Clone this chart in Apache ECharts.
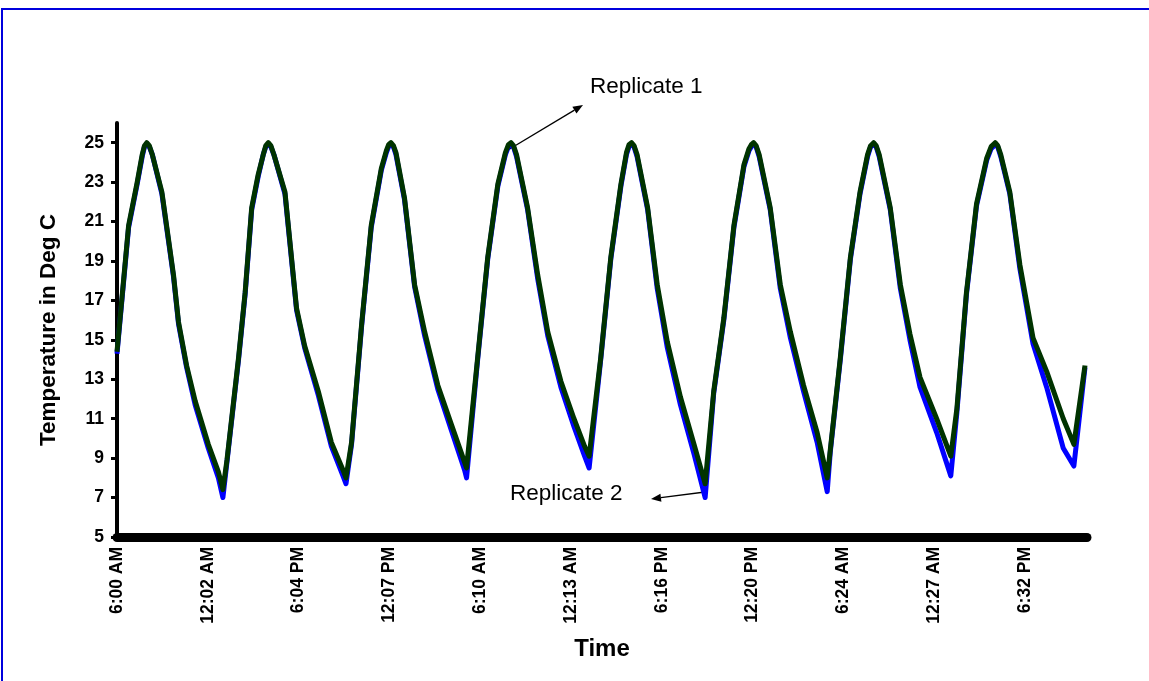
<!DOCTYPE html>
<html><head><meta charset="utf-8">
<script src="https://cdn.jsdelivr.net/npm/echarts@6/dist/echarts.min.js"></script>
<style>html,body{margin:0;padding:0;background:#fff}#c{width:1149px;height:681px}</style>
</head><body><div id="c"></div>
<script>
// elapsed hours from the 6:00 AM start
const hours = [0,2.3,4.0,5.0,5.45,5.9,6.4,7.0,8.9,11.2,12.2,13.8,15.5,18.1,20.1,21.0,
  21.8,24.1,25.4,26.7,28.0,29.0,29.5,30.0,30.5,31.1,33.3,35.6,37.2,39.9,42.5,44.8,45.4,
  46.5,48.5,50.4,52.4,53.4,53.85,54.3,54.8,55.3,57.0,59.0,61.0,63.6,66.3,68.9,69.3,
  71.5,73.5,75.5,77.0,77.6,78.1,78.6,79.2,81.4,83.4,85.4,88.0,90.6,92.7,93.6,
  95.9,97.9,99.9,101.0,101.5,102.0,102.5,103.1,105.2,107.1,109.1,111.7,114.4,116.6,
  118.3,120.3,122.3,124.3,125.3,125.75,126.2,126.7,127.3,129.5,131.5,133.5,136.1,138.8,140.8,
  141.4,143.4,145.4,147.3,148.8,149.4,150.0,150.5,151.1,153.3,155.3,157.2,159.2,162.5,165.3,
  166.5,168.4,170.4,172.4,173.3,174.1,174.6,175.2,177.0,179.0,181.6,184.3,187.6,189.7,191.9];
const replicate1 = [14.4,20.8,23.0,24.4,24.85,25.0,24.85,24.4,22.5,18.3,15.9,13.7,11.9,9.7,8.3,7.4,
  8.9,14.1,17.4,21.7,23.4,24.4,24.85,25.0,24.85,24.4,22.5,16.6,14.7,12.4,9.8,8.4,8.0,
  9.8,15.8,20.8,23.7,24.6,24.9,25.0,24.85,24.5,22.2,17.8,15.4,12.7,10.7,8.8,8.5,
  14.1,19.2,22.9,24.5,24.9,25.0,24.85,24.4,21.7,18.3,15.4,12.9,11.0,9.6,9.1,
  14.1,19.2,22.9,24.5,24.9,25.0,24.85,24.4,21.7,17.8,14.9,12.1,9.7,7.7,
  12.4,16.1,20.8,23.9,24.7,24.9,25.0,24.85,24.4,21.7,17.8,15.4,12.7,10.3,8.0,
  9.4,14.1,19.2,22.5,24.4,24.85,25.0,24.85,24.4,21.7,17.8,15.3,13.1,11.0,9.1,
  11.5,17.4,21.9,24.2,24.8,25.0,24.85,24.4,22.5,18.8,15.1,13.4,11.0,9.7,13.7];
const replicate2 = [14.3,20.7,22.9,24.3,24.8,24.9,24.8,24.4,22.4,18.2,15.8,13.6,11.7,9.5,8.0,7.0,
  8.8,14.0,17.3,21.6,23.3,24.4,24.8,24.9,24.8,24.4,22.4,16.5,14.6,12.2,9.6,8.1,7.7,
  9.7,15.7,20.7,23.6,24.5,24.8,24.9,24.8,24.4,22.1,17.7,15.2,12.5,10.4,8.4,8.0,
  14.0,19.1,22.8,24.4,24.8,24.9,24.8,24.3,21.6,18.1,15.2,12.6,10.6,9.1,8.5,
  14.0,19.1,22.8,24.4,24.8,24.9,24.8,24.3,21.6,17.6,14.6,11.7,9.2,7.0,
  12.3,16.0,20.7,23.8,24.6,24.8,24.9,24.8,24.3,21.6,17.6,15.1,12.4,9.8,7.3,
  9.3,14.0,19.1,22.4,24.3,24.8,24.9,24.8,24.3,21.6,17.6,15.0,12.6,10.3,8.1,
  11.3,17.3,21.8,24.1,24.7,24.9,24.8,24.3,22.4,18.6,14.8,12.6,9.5,8.6,13.6];
const xTickHours = [0,18,36,54,72,90,108,126,144,162,180];
const xTickLabels = ['6:00 AM','12:02 AM','6:04 PM','12:07 PM','6:10 AM','12:13 AM','6:16 PM','12:20 PM','6:24 AM','12:27 AM','6:32 PM'];
const yTicks = [5,7,9,11,13,15,17,19,21,23,25];

const chart = echarts.init(document.getElementById('c'), null, {renderer:'canvas'});
const FONT = 'Liberation Sans, Arial, sans-serif';

function arrow(x1,y1,x2,y2){
  const dx=x2-x1, dy=y2-y1, L=Math.hypot(dx,dy), ux=dx/L, uy=dy/L, px=-uy, py=ux;
  const bx=x2-ux*10, by=y2-uy*10;
  return [
    {type:'line', shape:{x1,y1,x2:bx,y2:by}, style:{stroke:'#000',lineWidth:1.3}},
    {type:'polygon', shape:{points:[[x2,y2],[bx+px*4,by+py*4],[bx-px*4,by-py*4]]}, style:{fill:'#000'}}
  ];
}

chart.setOption({
  animation:false,
  backgroundColor:'#fff',
  grid:{left:117,right:62,top:123,bottom:144},
  xAxis:{
    type:'value', min:0, max:192.3, interval:18,
    name:'Time', nameLocation:'middle', nameGap:100,
    nameTextStyle:{fontFamily:FONT,fontWeight:'bold',fontSize:24,color:'#000'},
    axisLine:{onZero:false,lineStyle:{color:'#000',width:9,cap:'round'}},
    axisTick:{show:false},
    splitLine:{show:false},
    axisLabel:{rotate:90,margin:10,fontFamily:FONT,fontWeight:'bold',fontSize:17.5,color:'#000',
      showMaxLabel:false,
      formatter:v=>{const i=xTickHours.indexOf(v);return i>=0?xTickLabels[i]:'';}}
  },
  yAxis:{
    type:'value', min:5, max:26,
    name:'Temperature in Deg C', nameLocation:'middle', nameGap:57, nameRotate:90,
    nameTextStyle:{fontFamily:FONT,fontWeight:'bold',fontSize:22.5,color:'#000'},
    axisLine:{show:true,lineStyle:{color:'#000',width:4}},
    axisTick:{show:true,length:6,customValues:yTicks,lineStyle:{color:'#000',width:3}},
    splitLine:{show:false},
    axisLabel:{customValues:yTicks,margin:13,fontFamily:FONT,fontWeight:'bold',fontSize:17.5,color:'#000'}
  },
  series:[
    {name:'Replicate 2',type:'line',showSymbol:false,data:hours.map((h,i)=>[h,replicate2[i]]),
     lineStyle:{color:'#0000ff',width:5,join:'round'},itemStyle:{color:'#0000ff'},z:2},
    {name:'Replicate 1',type:'line',showSymbol:false,data:hours.map((h,i)=>[h,replicate1[i]]),
     lineStyle:{color:'#003300',width:5,join:'round'},itemStyle:{color:'#003300'},z:3}
  ],
  graphic:[
    {type:'rect',shape:{x:2,y:9,width:1300,height:1000},style:{fill:null,stroke:'#0000dd',lineWidth:2},silent:true},
    {type:'text',x:590,y:87,style:{text:'Replicate 1',fontFamily:FONT,fontSize:22.5,fill:'#000',verticalAlign:'middle'}},
    {type:'text',x:510,y:494,style:{text:'Replicate 2',fontFamily:FONT,fontSize:22.5,fill:'#000',verticalAlign:'middle'}},
    ...arrow(508,150,583,105),
    ...arrow(705,492,651,499)
  ]
});
</script></body></html>
